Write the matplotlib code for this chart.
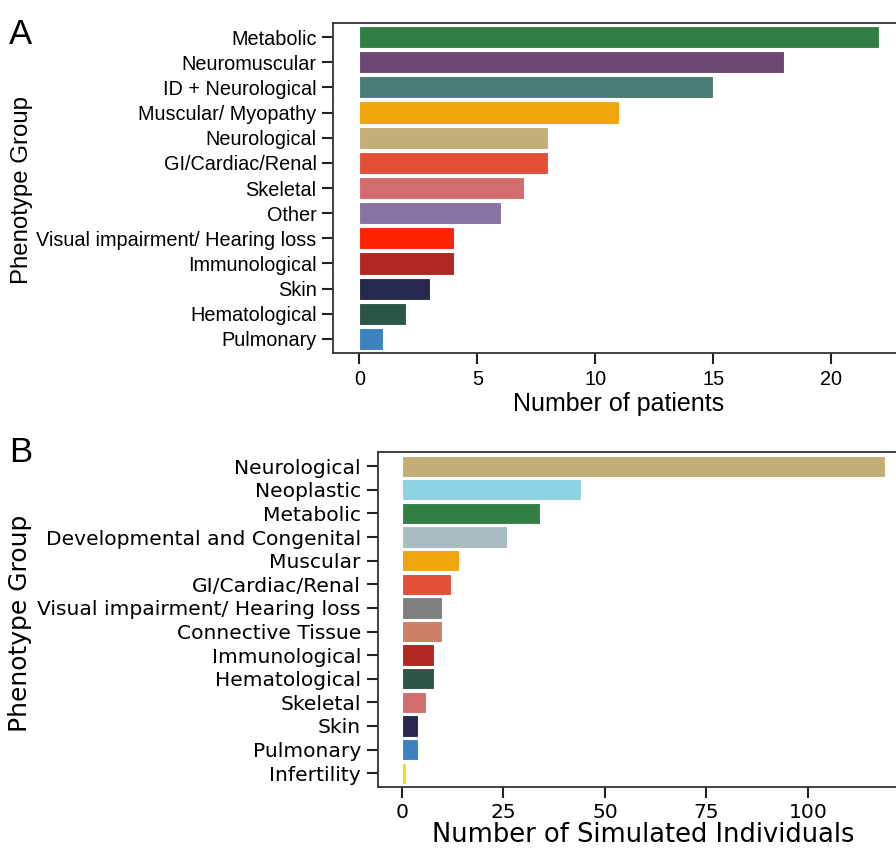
import matplotlib
matplotlib.use("Agg")
import matplotlib.pyplot as plt

# panel A: patients per phenotype group
groups_a = ["Metabolic", "Neuromuscular", "ID + Neurological", "Muscular/ Myopathy",
            "Neurological", "GI/Cardiac/Renal", "Skeletal", "Other",
            "Visual impairment/ Hearing loss", "Immunological", "Skin",
            "Hematological", "Pulmonary"]
patients = [22, 18, 15, 11, 8, 8, 7, 6, 4, 4, 3, 2, 1]
colors_a = ["#327F45", "#6B4774", "#4A7C73", "#F2A50A", "#C3AE78", "#E34F37",
            "#D36C6E", "#8874A0", "#FF2200", "#B12823", "#262850", "#2C5546",
            "#3C82BF"]

# panel B: simulated individuals per phenotype group
groups_b = ["Neurological", "Neoplastic", "Metabolic", "Developmental and Congenital",
            "Muscular", "GI/Cardiac/Renal", "Visual impairment/ Hearing loss",
            "Connective Tissue", "Immunological", "Hematological", "Skeletal",
            "Skin", "Pulmonary", "Infertility"]
simulated = [119, 44, 34, 26, 14, 12, 10, 10, 8, 8, 6, 4, 4, 1]
colors_b = ["#C3AE78", "#8CD4E2", "#327F45", "#ABBCC0", "#F2A50A", "#E34F37",
            "#808080", "#CD7F67", "#B12823", "#2C5546", "#D36C6E", "#262850",
            "#3C82BF", "#FFD700"]

fig = plt.figure(figsize=(8.96, 8.48), dpi=100)


def style_axes(ax):
    for s in ax.spines.values():
        s.set_color("#333333")
        s.set_linewidth(1.3)
    ax.tick_params(axis="both", length=8, width=1.5, color="#222222", pad=4)


# --- A ---
ax1 = fig.add_axes([0.372, 0.5834, 0.6375, 0.3898])
ax1.barh(range(len(groups_a)), patients, height=0.88, color=colors_a,
         edgecolor="white", linewidth=0.8)
ax1.set_ylim(len(groups_a) - 0.43, -0.57)
ax1.set_xlim(-1.1, 23.1)
ax1.set_yticks(range(len(groups_a)))
ax1.set_yticklabels(groups_a, fontsize=14.3, family="Liberation Sans")
ax1.set_xticks([0, 5, 10, 15, 20])
ax1.set_xticklabels(["0", "5", "10", "15", "20"], fontsize=14.3, family="Liberation Sans")
ax1.set_xlabel("Number of patients", fontsize=18, family="Liberation Sans", labelpad=2)
style_axes(ax1)
fig.text(0.025, 0.776, "Phenotype Group", rotation=90, fontsize=17.3,
         family="Liberation Sans", ha="center", va="center")
fig.text(0.01, 0.948, "A", fontsize=25, family="Liberation Sans", va="baseline")

# --- B ---
ax2 = fig.add_axes([0.4215, 0.0723, 0.5933, 0.3947])
ax2.barh(range(len(groups_b)), simulated, height=0.9, color=colors_b,
         edgecolor="white", linewidth=0.8)
ax2.set_ylim(len(groups_b) - 0.43, -0.6)
ax2.set_xlim(-5.95, 124.95)
ax2.set_yticks(range(len(groups_b)))
ax2.set_yticklabels(groups_b, fontsize=14.6, family="DejaVu Sans")
ax2.set_xticks([0, 25, 50, 75, 100])
ax2.set_xticklabels(["0", "25", "50", "75", "100"], fontsize=14.6, family="DejaVu Sans")
ax2.set_xlabel("Number of Simulated Individuals", fontsize=18.5, family="DejaVu Sans",
               labelpad=0)
style_axes(ax2)
fig.text(0.022, 0.265, "Phenotype Group", rotation=90, fontsize=18,
         family="DejaVu Sans", ha="center", va="center")
fig.text(0.01, 0.455, "B", fontsize=25, family="Liberation Sans", va="baseline")

fig.savefig("out.png", dpi=100, facecolor="white")
